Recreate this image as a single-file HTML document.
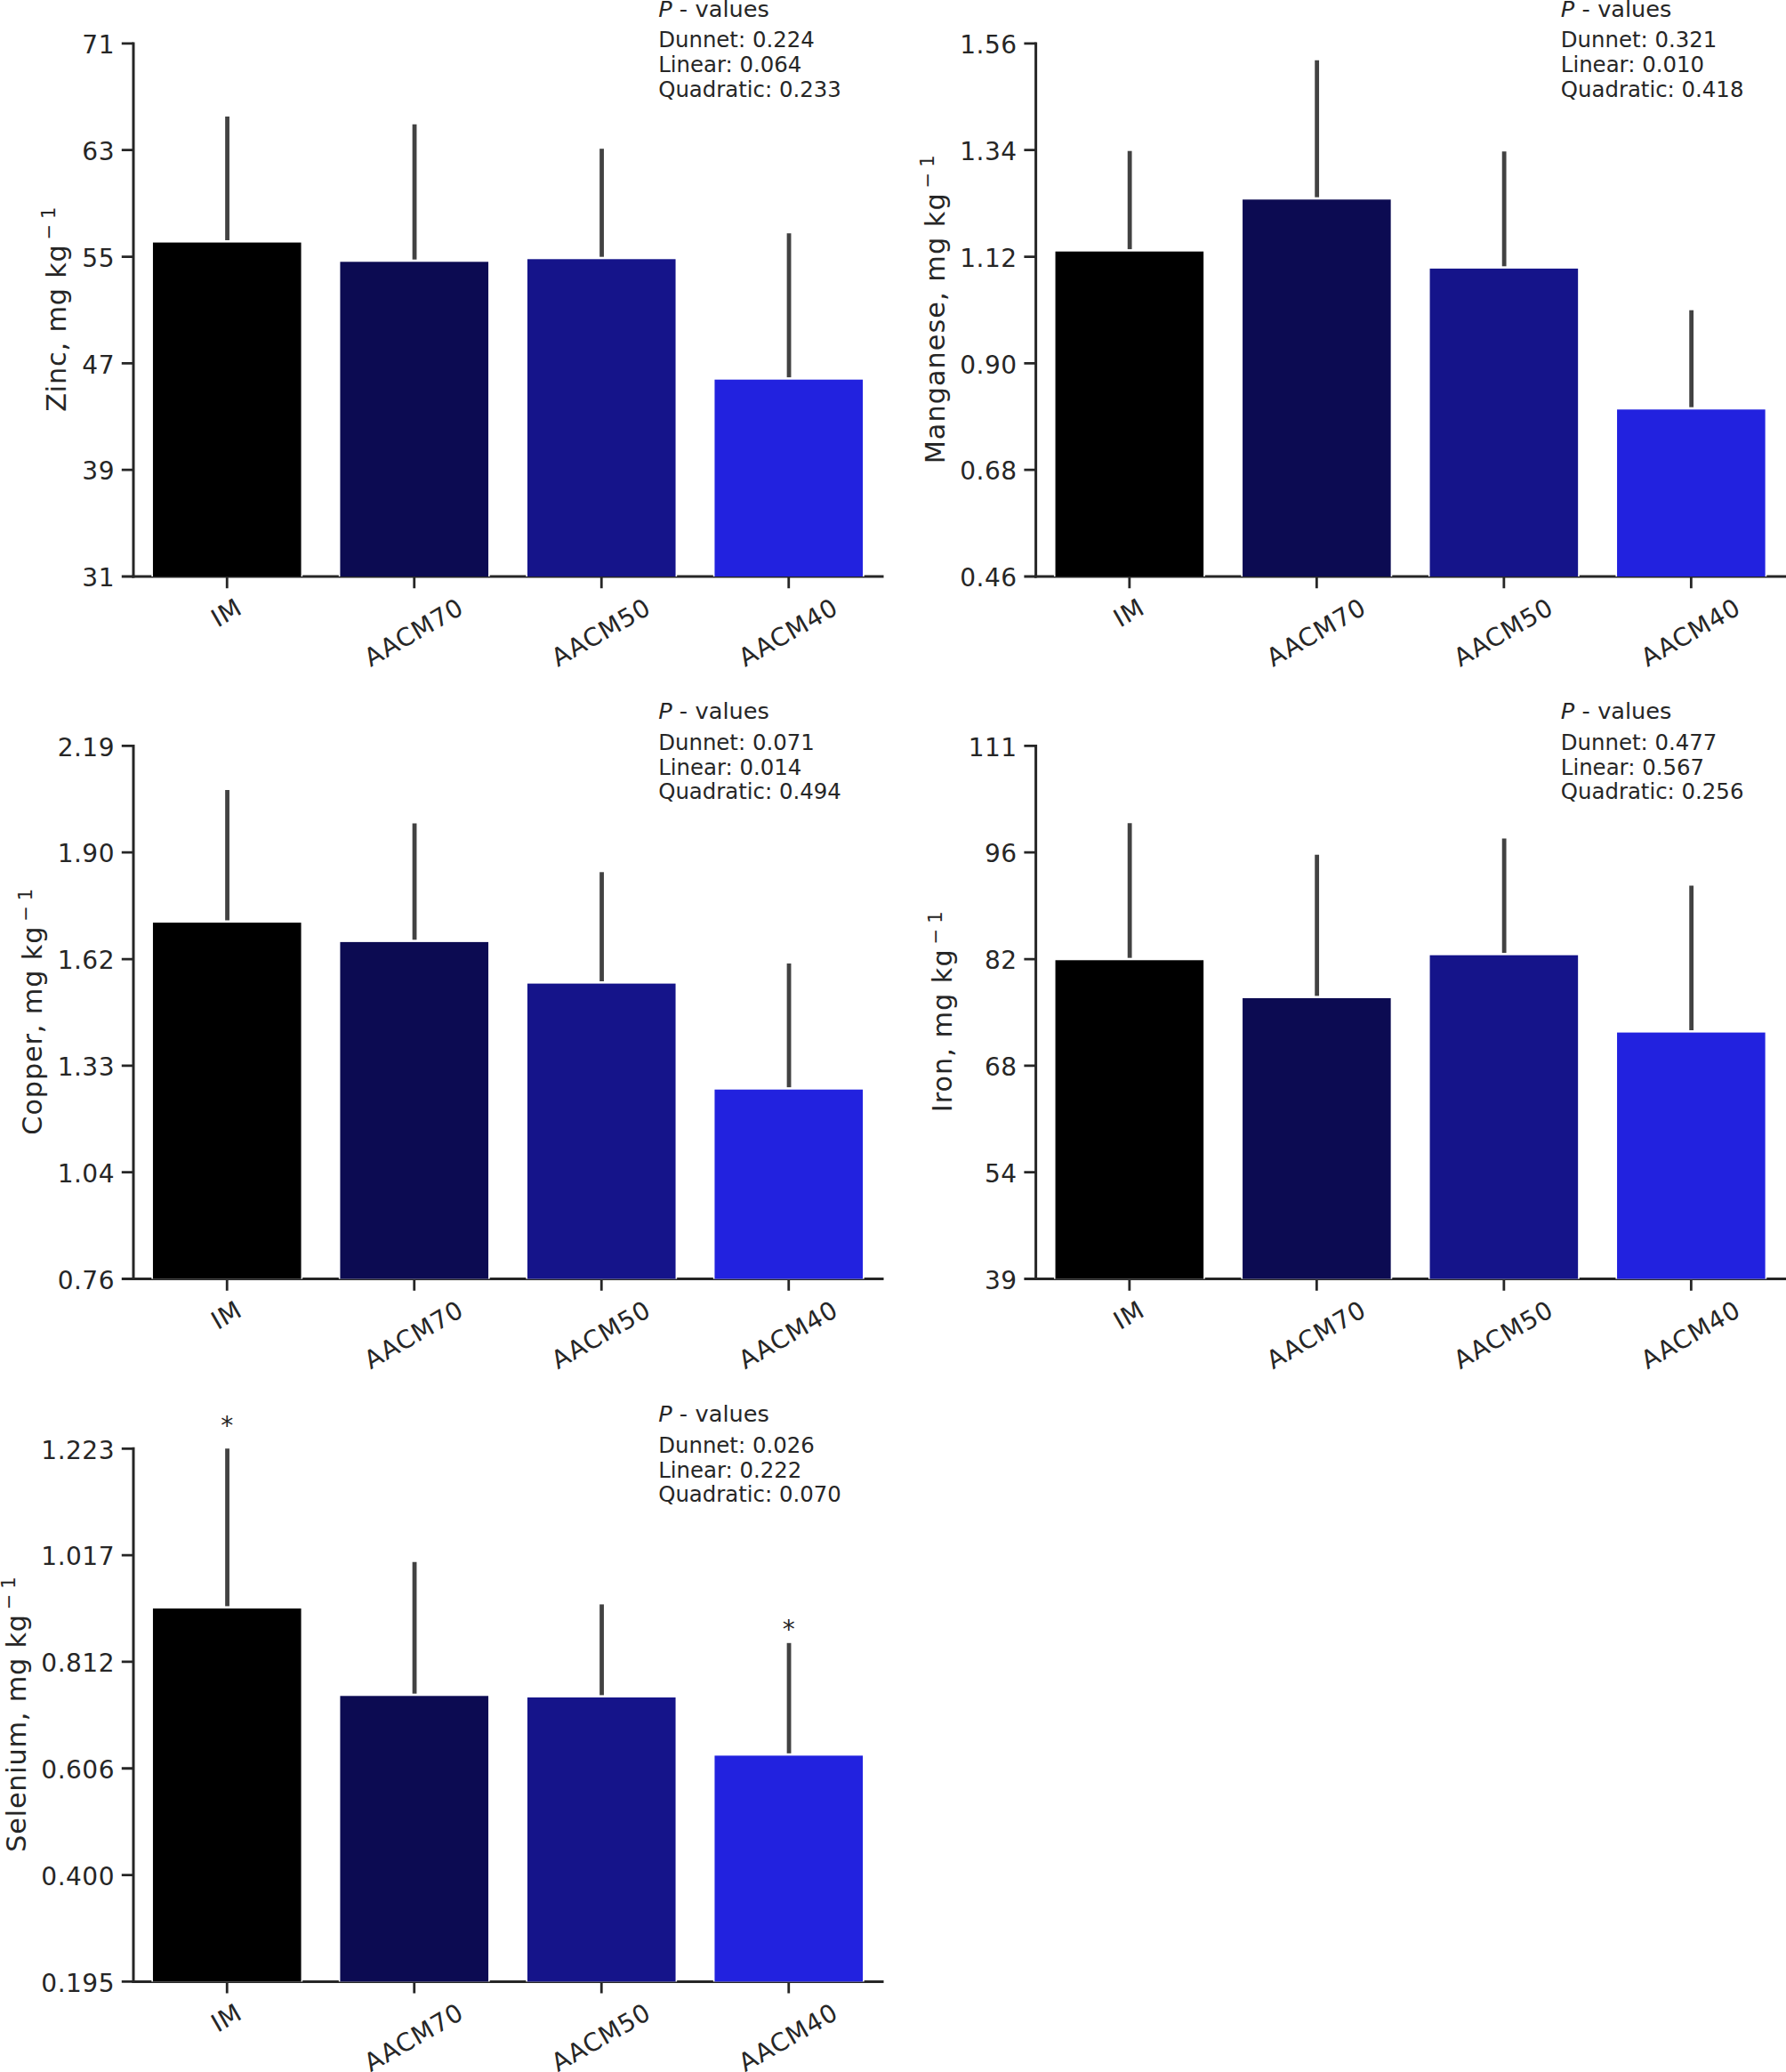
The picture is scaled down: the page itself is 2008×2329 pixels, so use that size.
<!DOCTYPE html>
<html lang="en"><head><meta charset="utf-8"><title>Mineral concentrations</title>
<style>html,body{margin:0;padding:0;background:#fff}body{width:2008px;height:2329px;overflow:hidden}svg{display:block}</style>
</head><body>
<svg width="2008" height="2329" viewBox="0 0 2008 2329" font-family="'DejaVu Sans', 'Liberation Sans', sans-serif" fill="#262626">
<rect width="2008" height="2329" fill="#fff"/>
<g id="p0">
<g stroke="#262626" stroke-width="3.0" fill="none">
<path d="M150.00 47.40V649.50"/>
<path d="M148.50 648.00H993.50"/>
<path d="M150.00 48.90h-13.2M150.00 168.72h-13.2M150.00 288.54h-13.2M150.00 408.36h-13.2M150.00 528.18h-13.2M150.00 648.00h-13.2M255.25 648.00v13.2M465.75 648.00v13.2M676.25 648.00v13.2M886.75 648.00v13.2" stroke-width="2.8"/>
</g>
<path d="M255.55 131.00V272.60" stroke="#424242" stroke-width="4.8"/>
<path d="M466.05 139.80V294.30" stroke="#424242" stroke-width="4.8"/>
<path d="M676.55 167.20V291.30" stroke="#424242" stroke-width="4.8"/>
<path d="M887.05 262.20V426.70" stroke="#424242" stroke-width="4.8"/>
<rect x="170.35" y="270.00" width="169.80" height="378.00" fill="#fff"/>
<rect x="171.95" y="272.60" width="166.60" height="375.40" fill="#000000"/>
<rect x="380.85" y="291.70" width="169.80" height="356.30" fill="#fff"/>
<rect x="382.45" y="294.30" width="166.60" height="353.70" fill="#0c0b52"/>
<rect x="591.35" y="288.70" width="169.80" height="359.30" fill="#fff"/>
<rect x="592.95" y="291.30" width="166.60" height="356.70" fill="#15148a"/>
<rect x="801.85" y="424.10" width="169.80" height="223.90" fill="#fff"/>
<rect x="803.45" y="426.70" width="166.60" height="221.30" fill="#2222df"/>
<g font-size="28.0" text-anchor="end" letter-spacing="0.5">
<text x="129.00" y="60.12">71</text>
<text x="129.00" y="179.94">63</text>
<text x="129.00" y="299.76">55</text>
<text x="129.00" y="419.58">47</text>
<text x="129.00" y="539.40">39</text>
<text x="129.00" y="659.22">31</text>
</g>
<g font-size="28.0" text-anchor="middle" letter-spacing="0.9">
<text transform="translate(254.35 688.24) rotate(-30)" y="10.21">IM</text>
<text transform="translate(464.85 709.95) rotate(-30)" y="10.58">AACM70</text>
<text transform="translate(675.35 709.95) rotate(-30)" y="10.58">AACM50</text>
<text transform="translate(885.85 709.95) rotate(-30)" y="10.58">AACM40</text>
</g>
<text font-size="30.3" letter-spacing="0.82" text-anchor="middle" transform="translate(73.60 347.25) rotate(-90)">Zinc, mg kg<tspan font-size="21.21" dy="-11.51" dx="4.9">−</tspan><tspan font-size="21.21" dx="4.9">1</tspan></text>
<text font-size="25.6" x="740.20" y="18.80"><tspan font-style="oblique">P</tspan><tspan dx="0.1"> - </tspan><tspan dx="0.3">values</tspan></text>
<g font-size="24.4">
<text x="740.20" y="53.30">Dunnet: 0.224</text>
<text x="740.20" y="81.10">Linear: 0.064</text>
<text x="740.20" y="108.90">Quadratic: 0.233</text>
</g>
</g>
<g id="p1">
<g stroke="#262626" stroke-width="3.0" fill="none">
<path d="M1164.60 47.40V649.50"/>
<path d="M1163.10 648.00H2008.10"/>
<path d="M1164.60 48.90h-13.2M1164.60 168.72h-13.2M1164.60 288.54h-13.2M1164.60 408.36h-13.2M1164.60 528.18h-13.2M1164.60 648.00h-13.2M1269.85 648.00v13.2M1480.35 648.00v13.2M1690.85 648.00v13.2M1901.35 648.00v13.2" stroke-width="2.8"/>
</g>
<path d="M1270.15 169.70V282.70" stroke="#424242" stroke-width="4.8"/>
<path d="M1480.65 67.70V224.30" stroke="#424242" stroke-width="4.8"/>
<path d="M1691.15 170.20V301.90" stroke="#424242" stroke-width="4.8"/>
<path d="M1901.65 348.70V460.30" stroke="#424242" stroke-width="4.8"/>
<rect x="1184.95" y="280.10" width="169.80" height="367.90" fill="#fff"/>
<rect x="1186.55" y="282.70" width="166.60" height="365.30" fill="#000000"/>
<rect x="1395.45" y="221.70" width="169.80" height="426.30" fill="#fff"/>
<rect x="1397.05" y="224.30" width="166.60" height="423.70" fill="#0c0b52"/>
<rect x="1605.95" y="299.30" width="169.80" height="348.70" fill="#fff"/>
<rect x="1607.55" y="301.90" width="166.60" height="346.10" fill="#15148a"/>
<rect x="1816.45" y="457.70" width="169.80" height="190.30" fill="#fff"/>
<rect x="1818.05" y="460.30" width="166.60" height="187.70" fill="#2222df"/>
<g font-size="28.0" text-anchor="end" letter-spacing="0.5">
<text x="1143.60" y="60.12">1.56</text>
<text x="1143.60" y="179.94">1.34</text>
<text x="1143.60" y="299.76">1.12</text>
<text x="1143.60" y="419.58">0.90</text>
<text x="1143.60" y="539.40">0.68</text>
<text x="1143.60" y="659.22">0.46</text>
</g>
<g font-size="28.0" text-anchor="middle" letter-spacing="0.9">
<text transform="translate(1268.95 688.24) rotate(-30)" y="10.21">IM</text>
<text transform="translate(1479.45 709.95) rotate(-30)" y="10.58">AACM70</text>
<text transform="translate(1689.95 709.95) rotate(-30)" y="10.58">AACM50</text>
<text transform="translate(1900.45 709.95) rotate(-30)" y="10.58">AACM40</text>
</g>
<text font-size="30.3" letter-spacing="1.04" text-anchor="middle" transform="translate(1061.60 347.25) rotate(-90)">Manganese, mg kg<tspan font-size="21.21" dy="-11.51" dx="4.9">−</tspan><tspan font-size="21.21" dx="4.9">1</tspan></text>
<text font-size="25.6" x="1754.80" y="18.80"><tspan font-style="oblique">P</tspan><tspan dx="0.1"> - </tspan><tspan dx="0.3">values</tspan></text>
<g font-size="24.4">
<text x="1754.80" y="53.30">Dunnet: 0.321</text>
<text x="1754.80" y="81.10">Linear: 0.010</text>
<text x="1754.80" y="108.90">Quadratic: 0.418</text>
</g>
</g>
<g id="p2">
<g stroke="#262626" stroke-width="3.0" fill="none">
<path d="M150.00 836.90V1439.00"/>
<path d="M148.50 1437.50H993.50"/>
<path d="M150.00 838.40h-13.2M150.00 958.22h-13.2M150.00 1078.04h-13.2M150.00 1197.86h-13.2M150.00 1317.68h-13.2M150.00 1437.50h-13.2M255.25 1437.50v13.2M465.75 1437.50v13.2M676.25 1437.50v13.2M886.75 1437.50v13.2" stroke-width="2.8"/>
</g>
<path d="M255.55 888.00V1037.10" stroke="#424242" stroke-width="4.8"/>
<path d="M466.05 925.40V1058.90" stroke="#424242" stroke-width="4.8"/>
<path d="M676.55 980.30V1105.60" stroke="#424242" stroke-width="4.8"/>
<path d="M887.05 1082.90V1224.70" stroke="#424242" stroke-width="4.8"/>
<rect x="170.35" y="1034.50" width="169.80" height="403.00" fill="#fff"/>
<rect x="171.95" y="1037.10" width="166.60" height="400.40" fill="#000000"/>
<rect x="380.85" y="1056.30" width="169.80" height="381.20" fill="#fff"/>
<rect x="382.45" y="1058.90" width="166.60" height="378.60" fill="#0c0b52"/>
<rect x="591.35" y="1103.00" width="169.80" height="334.50" fill="#fff"/>
<rect x="592.95" y="1105.60" width="166.60" height="331.90" fill="#15148a"/>
<rect x="801.85" y="1222.10" width="169.80" height="215.40" fill="#fff"/>
<rect x="803.45" y="1224.70" width="166.60" height="212.80" fill="#2222df"/>
<g font-size="28.0" text-anchor="end" letter-spacing="0.5">
<text x="129.00" y="849.62">2.19</text>
<text x="129.00" y="969.44">1.90</text>
<text x="129.00" y="1089.26">1.62</text>
<text x="129.00" y="1209.08">1.33</text>
<text x="129.00" y="1328.90">1.04</text>
<text x="129.00" y="1448.72">0.76</text>
</g>
<g font-size="28.0" text-anchor="middle" letter-spacing="0.9">
<text transform="translate(254.35 1477.74) rotate(-30)" y="10.21">IM</text>
<text transform="translate(464.85 1499.45) rotate(-30)" y="10.58">AACM70</text>
<text transform="translate(675.35 1499.45) rotate(-30)" y="10.58">AACM50</text>
<text transform="translate(885.85 1499.45) rotate(-30)" y="10.58">AACM40</text>
</g>
<text font-size="30.3" letter-spacing="0.87" text-anchor="middle" transform="translate(47.40 1136.75) rotate(-90)">Copper, mg kg<tspan font-size="21.21" dy="-11.51" dx="4.9">−</tspan><tspan font-size="21.21" dx="4.9">1</tspan></text>
<text font-size="25.6" x="740.20" y="808.30"><tspan font-style="oblique">P</tspan><tspan dx="0.1"> - </tspan><tspan dx="0.3">values</tspan></text>
<g font-size="24.4">
<text x="740.20" y="842.80">Dunnet: 0.071</text>
<text x="740.20" y="870.60">Linear: 0.014</text>
<text x="740.20" y="898.40">Quadratic: 0.494</text>
</g>
</g>
<g id="p3">
<g stroke="#262626" stroke-width="3.0" fill="none">
<path d="M1164.60 836.90V1439.00"/>
<path d="M1163.10 1437.50H2008.10"/>
<path d="M1164.60 838.40h-13.2M1164.60 958.22h-13.2M1164.60 1078.04h-13.2M1164.60 1197.86h-13.2M1164.60 1317.68h-13.2M1164.60 1437.50h-13.2M1269.85 1437.50v13.2M1480.35 1437.50v13.2M1690.85 1437.50v13.2M1901.35 1437.50v13.2" stroke-width="2.8"/>
</g>
<path d="M1270.15 925.20V1079.30" stroke="#424242" stroke-width="4.8"/>
<path d="M1480.65 960.80V1122.00" stroke="#424242" stroke-width="4.8"/>
<path d="M1691.15 942.50V1073.70" stroke="#424242" stroke-width="4.8"/>
<path d="M1901.65 995.40V1160.60" stroke="#424242" stroke-width="4.8"/>
<rect x="1184.95" y="1076.70" width="169.80" height="360.80" fill="#fff"/>
<rect x="1186.55" y="1079.30" width="166.60" height="358.20" fill="#000000"/>
<rect x="1395.45" y="1119.40" width="169.80" height="318.10" fill="#fff"/>
<rect x="1397.05" y="1122.00" width="166.60" height="315.50" fill="#0c0b52"/>
<rect x="1605.95" y="1071.10" width="169.80" height="366.40" fill="#fff"/>
<rect x="1607.55" y="1073.70" width="166.60" height="363.80" fill="#15148a"/>
<rect x="1816.45" y="1158.00" width="169.80" height="279.50" fill="#fff"/>
<rect x="1818.05" y="1160.60" width="166.60" height="276.90" fill="#2222df"/>
<g font-size="28.0" text-anchor="end" letter-spacing="0.5">
<text x="1143.60" y="849.62">111</text>
<text x="1143.60" y="969.44">96</text>
<text x="1143.60" y="1089.26">82</text>
<text x="1143.60" y="1209.08">68</text>
<text x="1143.60" y="1328.90">54</text>
<text x="1143.60" y="1448.72">39</text>
</g>
<g font-size="28.0" text-anchor="middle" letter-spacing="0.9">
<text transform="translate(1268.95 1477.74) rotate(-30)" y="10.21">IM</text>
<text transform="translate(1479.45 1499.45) rotate(-30)" y="10.58">AACM70</text>
<text transform="translate(1689.95 1499.45) rotate(-30)" y="10.58">AACM50</text>
<text transform="translate(1900.45 1499.45) rotate(-30)" y="10.58">AACM40</text>
</g>
<text font-size="30.3" letter-spacing="0.99" text-anchor="middle" transform="translate(1070.20 1136.75) rotate(-90)">Iron, mg kg<tspan font-size="21.21" dy="-11.51" dx="4.9">−</tspan><tspan font-size="21.21" dx="4.9">1</tspan></text>
<text font-size="25.6" x="1754.80" y="808.30"><tspan font-style="oblique">P</tspan><tspan dx="0.1"> - </tspan><tspan dx="0.3">values</tspan></text>
<g font-size="24.4">
<text x="1754.80" y="842.80">Dunnet: 0.477</text>
<text x="1754.80" y="870.60">Linear: 0.567</text>
<text x="1754.80" y="898.40">Quadratic: 0.256</text>
</g>
</g>
<g id="p4">
<g stroke="#262626" stroke-width="3.0" fill="none">
<path d="M150.00 1626.80V2228.90"/>
<path d="M148.50 2227.40H993.50"/>
<path d="M150.00 1628.30h-13.2M150.00 1748.12h-13.2M150.00 1867.94h-13.2M150.00 1987.76h-13.2M150.00 2107.58h-13.2M150.00 2227.40h-13.2M255.25 2227.40v13.2M465.75 2227.40v13.2M676.25 2227.40v13.2M886.75 2227.40v13.2" stroke-width="2.8"/>
</g>
<path d="M255.55 1628.30V1808.00" stroke="#424242" stroke-width="4.8"/>
<path d="M466.05 1755.80V1906.30" stroke="#424242" stroke-width="4.8"/>
<path d="M676.55 1803.40V1908.00" stroke="#424242" stroke-width="4.8"/>
<path d="M887.05 1846.80V1973.40" stroke="#424242" stroke-width="4.8"/>
<rect x="170.35" y="1805.40" width="169.80" height="422.00" fill="#fff"/>
<rect x="171.95" y="1808.00" width="166.60" height="419.40" fill="#000000"/>
<rect x="380.85" y="1903.70" width="169.80" height="323.70" fill="#fff"/>
<rect x="382.45" y="1906.30" width="166.60" height="321.10" fill="#0c0b52"/>
<rect x="591.35" y="1905.40" width="169.80" height="322.00" fill="#fff"/>
<rect x="592.95" y="1908.00" width="166.60" height="319.40" fill="#15148a"/>
<rect x="801.85" y="1970.80" width="169.80" height="256.60" fill="#fff"/>
<rect x="803.45" y="1973.40" width="166.60" height="254.00" fill="#2222df"/>
<g font-size="28.0" text-anchor="end" letter-spacing="0.5">
<text x="129.00" y="1639.52">1.223</text>
<text x="129.00" y="1759.34">1.017</text>
<text x="129.00" y="1879.16">0.812</text>
<text x="129.00" y="1998.98">0.606</text>
<text x="129.00" y="2118.80">0.400</text>
<text x="129.00" y="2238.62">0.195</text>
</g>
<g font-size="28.0" text-anchor="middle" letter-spacing="0.9">
<text transform="translate(254.35 2267.64) rotate(-30)" y="10.21">IM</text>
<text transform="translate(464.85 2289.35) rotate(-30)" y="10.58">AACM70</text>
<text transform="translate(675.35 2289.35) rotate(-30)" y="10.58">AACM50</text>
<text transform="translate(885.85 2289.35) rotate(-30)" y="10.58">AACM40</text>
</g>
<text font-size="30.3" letter-spacing="0.79" text-anchor="middle" transform="translate(28.60 1926.65) rotate(-90)">Selenium, mg kg<tspan font-size="21.21" dy="-11.51" dx="4.9">−</tspan><tspan font-size="21.21" dx="4.9">1</tspan></text>
<text font-size="25.6" x="740.20" y="1598.20"><tspan font-style="oblique">P</tspan><tspan dx="0.1"> - </tspan><tspan dx="0.3">values</tspan></text>
<g font-size="24.4">
<text x="740.20" y="1632.70">Dunnet: 0.026</text>
<text x="740.20" y="1660.50">Linear: 0.222</text>
<text x="740.20" y="1688.30">Quadratic: 0.070</text>
</g>
<text font-size="28.0" text-anchor="middle" x="255.25" y="1612.00">*</text>
<text font-size="28.0" text-anchor="middle" x="886.75" y="1841.20">*</text>
</g>
</svg>
</body></html>
